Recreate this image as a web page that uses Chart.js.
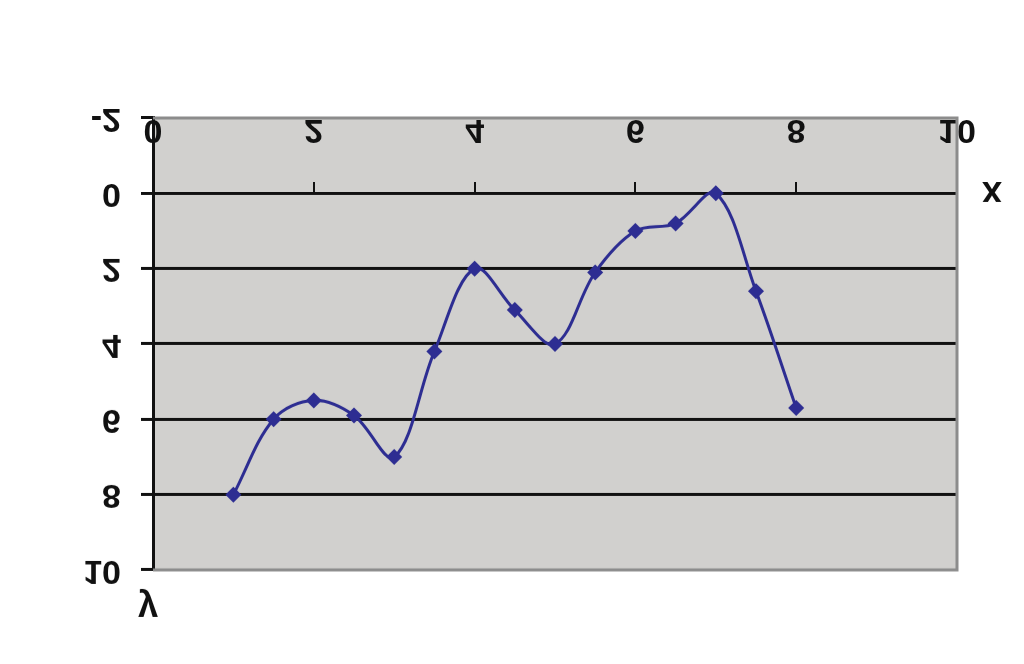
<!DOCTYPE html>
<html>
<head>
<meta charset="utf-8">
<script src="https://cdn.jsdelivr.net/npm/chart.js@4/dist/chart.umd.min.js"></script>
<style>
  html, body { margin: 0; padding: 0; background: #ffffff; }
  #wrap { width: 1024px; height: 664px; }
  #c { display: block; transform: scaleY(-1); }
</style>
</head>
<body>
<div id="wrap"><canvas id="c" width="1024" height="664"></canvas></div>
<script>
// Data
const xValues = [1, 1.5, 2, 2.5, 3, 3.5, 4, 4.5, 5, 5.5, 6, 6.5, 7, 7.5, 8];
const yValues = [8, 6, 5.5, 5.9, 7, 4.2, 2, 3.1, 4, 2.1, 1, 0.8, 0, 2.6, 5.7];
const xTickValues = [0, 2, 4, 6, 8, 10];
const yTickValues = [-2, 0, 2, 4, 6, 8, 10];
const xTitle = 'x';
const yTitle = 'y';

const points = xValues.map((x, i) => ({ x: x, y: yValues[i] }));

const FONT = '"Liberation Sans", Arial, sans-serif';
const LINE_COLOR = '#2d2d92';

const plotFrame = {
  id: 'plotFrame',
  beforeDraw(chart) {
    const a = chart.chartArea, ctx = chart.ctx;
    ctx.save();
    ctx.fillStyle = '#d1d0ce';
    ctx.fillRect(a.left, a.top, a.right - a.left, a.bottom - a.top);
    ctx.restore();
  },
  beforeDatasetsDraw(chart) {
    const a = chart.chartArea, ctx = chart.ctx;
    ctx.save();
    ctx.strokeStyle = '#8c8c8c';
    ctx.lineWidth = 3;
    ctx.beginPath();
    ctx.moveTo(a.left, a.top);
    ctx.lineTo(a.right, a.top);
    ctx.lineTo(a.right, a.bottom);
    ctx.lineTo(a.left, a.bottom);
    ctx.stroke();
    ctx.restore();
  },
  afterDraw(chart) {
    const ctx = chart.ctx;
    const xs = chart.scales.x, ys = chart.scales.y;
    ctx.save();
    ctx.fillStyle = '#111111';
    ctx.font = 'bold 36px ' + FONT;
    ctx.textAlign = 'center';
    ctx.textBaseline = 'alphabetic';
    ctx.fillText(xTitle, xs.right + 35, ys.getPixelForValue(0) + 11);
    ctx.fillText(yTitle, xs.left - 5, ys.top - 27);
    ctx.restore();
  }
};

new Chart(document.getElementById('c'), {
  type: 'scatter',
  data: {
    datasets: [{
      data: points,
      showLine: true,
      borderColor: LINE_COLOR,
      backgroundColor: LINE_COLOR,
      borderWidth: 3,
      tension: 0.35,
      pointStyle: 'rectRot',
      pointRadius: 8,
      pointBorderWidth: 0,
      pointBackgroundColor: LINE_COLOR
    }]
  },
  options: {
    responsive: false,
    animation: false,
    devicePixelRatio: 1,
    layout: { padding: { left: 0, top: 94, right: 67, bottom: 118 } },
    plugins: { legend: { display: false }, tooltip: { enabled: false } },
    scales: {
      x: {
        type: 'linear',
        position: { y: 0 },
        min: 0, max: 10,
        afterBuildTicks(scale) { scale.ticks = xTickValues.map(v => ({ value: v })); },
        border: { display: true, color: '#111111', width: 3 },
        grid: { drawOnChartArea: false, drawTicks: true, tickLength: 10, tickColor: '#111111', lineWidth: 2 },
        ticks: { color: '#111111', font: { family: FONT, size: 34, weight: 'bold' }, padding: 34, maxRotation: 0 }
      },
      y: {
        type: 'linear',
        position: 'left',
        min: -2, max: 10,
        afterBuildTicks(scale) { scale.ticks = yTickValues.map(v => ({ value: v })); },
        afterFit(scale) { scale.width = 153; },
        border: { display: true, color: '#111111', width: 3 },
        grid: {
          color: (c) => (c.tick && (c.tick.value === -2 || c.tick.value === 10)) ? 'rgba(0,0,0,0)' : '#111111',
          tickColor: '#111111',
          lineWidth: 3,
          drawTicks: true,
          tickLength: 12
        },
        ticks: { color: '#111111', font: { family: FONT, size: 34, weight: 'bold' }, padding: 20 }
      }
    }
  },
  plugins: [plotFrame]
});
</script>
</body>
</html>
